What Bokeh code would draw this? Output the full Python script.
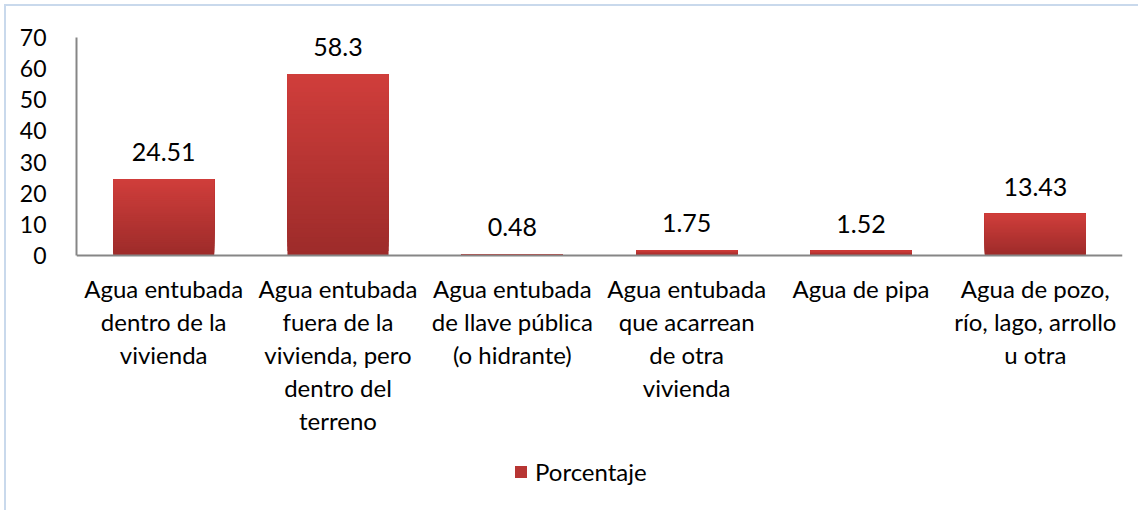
from bokeh.plotting import figure
from bokeh.models import (ColumnDataSource, LabelSet, Legend, LegendItem,
                          FixedTicker, Span)
from bokeh.core.properties import value
from bokeh.embed import file_html
from bokeh.resources import INLINE

categories = [
    "Agua entubada dentro de la vivienda",
    "Agua entubada fuera de la vivienda, pero dentro del terreno",
    "Agua entubada de llave pública (o hidrante)",
    "Agua entubada que acarrean de otra vivienda",
    "Agua de pipa",
    "Agua de pozo, río, lago, arrollo u otra",
]
label_lines = [
    ["Agua entubada", "dentro de la", "vivienda"],
    ["Agua entubada", "fuera de la", "vivienda, pero", "dentro del", "terreno"],
    ["Agua entubada", "de llave pública", "(o hidrante)"],
    ["Agua entubada", "que acarrean", "de otra", "vivienda"],
    ["Agua de pipa"],
    ["Agua de pozo,", "río, lago, arrollo", "u otra"],
]
porcentaje = [24.51, 58.3, 0.48, 1.75, 1.52, 13.43]
value_labels = ["24.51", "58.3", "0.48", "1.75", "1.52", "13.43"]
series_name = "Porcentaje"
y_ticks = [0, 10, 20, 30, 40, 50, 60, 70]
y_max = 70

FONT = "Lato"
TOP_RGB = (0xD0, 0x3E, 0x3B)
BOT_RGB = (0x9D, 0x2B, 0x2A)
N_BANDS = 40

# layout (pixels)
OFF = 6                  # margin + border
W, H = 1134, 506
TOP, LEFT, RIGHT = 37 - OFF, 76 - OFF, 18
AXIS_PX = 218            # pixel height of 0..70
frame_h = H - TOP
y_min = -(frame_h - AXIS_PX) * y_max / AXIS_PX
LINE_H = 33
FIRST_BASE = 42

p = figure(x_range=categories, y_range=(y_min, y_max), width=W, height=H,
           output_backend="svg", toolbar_location=None,
           min_border_left=LEFT, min_border_right=RIGHT, min_border_top=TOP,
           min_border_bottom=0)
p.styles = {"border-left": "2px solid #c9d9ec", "border-top": "2px solid #c9d9ec",
            "margin-left": "4px", "margin-top": "4px"}
p.outline_line_color = None
p.grid.visible = False
p.background_fill_color = "white"
p.border_fill_color = "white"
p.xaxis.visible = False

# gradient bars: overlapping bands from each band's start up to the value
renderers = []
for k in range(N_BANDS):
    t = (k + 0.5) / N_BANDS
    col = "#%02x%02x%02x" % tuple(int(round(b + (a - b) * t)) for a, b in zip(TOP_RGB, BOT_RGB))
    src = ColumnDataSource(dict(
        x=categories,
        bottom=[v * k / N_BANDS for v in porcentaje],
        top=porcentaje,
    ))
    r = p.vbar(x="x", bottom="bottom", top="top", width=0.58, source=src,
               fill_color=col, line_color=None)
    renderers.append(r)

# x axis line
p.add_layout(Span(location=0, dimension="width", line_color="#868686", line_width=2))

# value labels
lsrc = ColumnDataSource(dict(x=categories, y=porcentaje, t=value_labels))
p.add_layout(LabelSet(x="x", y="y", text="t", source=lsrc, text_align="center",
                      text_baseline="alphabetic", y_offset=18,
                      text_font=value(FONT), text_font_size="25px", text_color="#000000"))

# category labels below the axis, one row per line, each centred
cx, cy, ct, coff = [], [], [], []
for cat, lines in zip(categories, label_lines):
    for i, line in enumerate(lines):
        cx.append(cat)
        cy.append(0)
        ct.append(line)
        coff.append(-(FIRST_BASE + LINE_H * i))
csrc = ColumnDataSource(dict(x=cx, y=cy, t=ct, off=coff))
p.add_layout(LabelSet(x="x", y="y", text="t", source=csrc, text_align="center",
                      text_baseline="alphabetic", y_offset="off",
                      text_font=value(FONT), text_font_size="24px", text_color="#000000"))

# y axis
p.yaxis.ticker = FixedTicker(ticks=y_ticks)
p.yaxis.bounds = (0, y_max)
p.yaxis.axis_line_color = "#868686"
p.yaxis.axis_line_width = 2
p.yaxis.major_tick_line_color = None
p.yaxis.minor_tick_line_color = None
p.yaxis.major_label_text_font = FONT
p.yaxis.major_label_text_font_size = "23px"
p.yaxis.major_label_text_color = "#000000"
p.yaxis.major_label_standoff = 24

# legend
mid = renderers[N_BANDS // 2]
legend = Legend(items=[LegendItem(label=series_name, renderers=[mid])],
                location=(437, 26), orientation="horizontal",
                glyph_width=15, glyph_height=15, label_standoff=7,
                label_text_font=FONT, label_text_font_size="24px",
                label_text_color="#000000", border_line_color=None,
                background_fill_alpha=0, padding=0, margin=0, spacing=0)
p.add_layout(legend)

open("out.html", "w").write(file_html(p, INLINE))
